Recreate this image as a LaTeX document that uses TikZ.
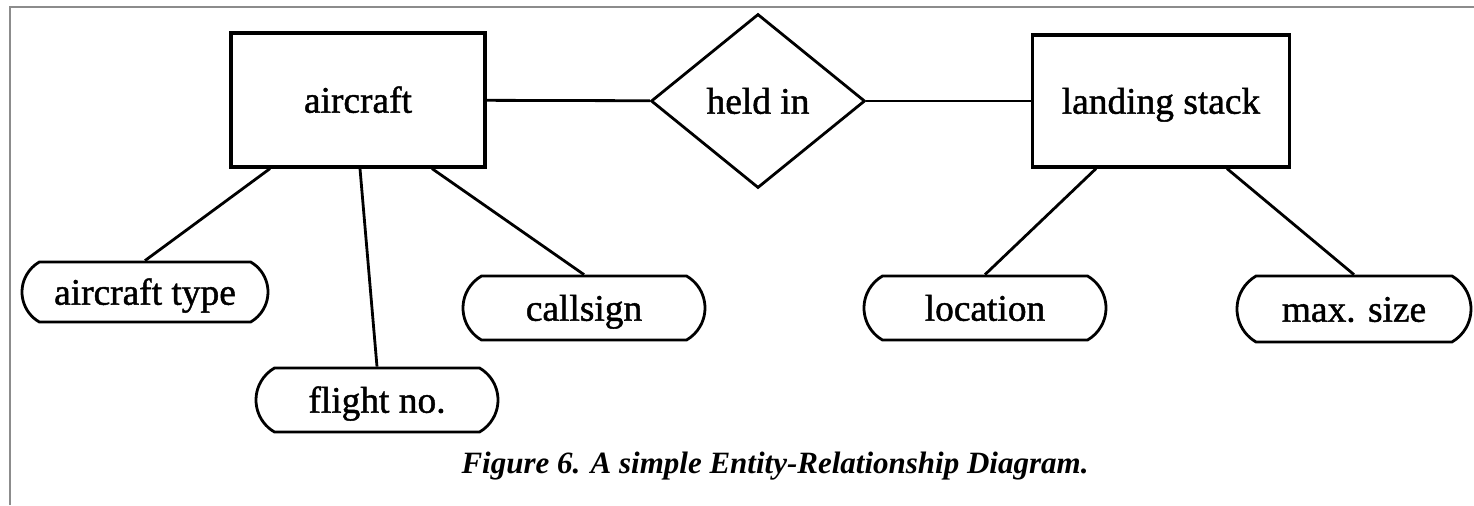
\documentclass[tikz,border=0pt]{standalone}
\usepackage{fontspec}
\setmainfont{Liberation Serif}
\newfontfamily\erfont[BoldFont={Liberation Serif},BoldFeatures={FakeBold=1.2}]{Liberation Serif}
\usetikzlibrary{shapes.geometric,shapes.misc,calc}
\begin{document}
\begin{tikzpicture}[x=0.5pt,y=-0.5pt,
  every node/.style={font=\erfont\bfseries\fontsize{18.7pt}{20pt}\selectfont, inner sep=0pt, text height=12.7pt, text depth=0pt},
  entity/.style={draw, line width=1.6pt, minimum width=127pt, minimum height=67pt},
  relation/.style={draw, diamond, line width=1.4pt, minimum width=107pt, minimum height=87pt},
  attrib/.style={draw, rounded rectangle, rounded rectangle arc length=120, line width=1.4pt, minimum width=121pt, minimum height=32pt},
  link/.style={line width=1.4pt},
  frame/.style={draw=black!45, line width=1pt}]
\useasboundingbox (0,0) rectangle (1474,505);
\draw[frame] (10,505) -- (10,7) -- (1474,7);
\node[entity] (air) at (358,100) {aircraft};
\node[relation] (held) at (758,101) {held in};
\node[entity, minimum width=128.5pt, minimum height=66pt] (land) at (1161,101) {landing stack};
\node[attrib, minimum width=123pt, minimum height=30pt] (atype) at (145,292) {aircraft type};
\node[attrib] (flight) at (377,400) {flight no.};
\node[attrib] (call) at (584,308) {callsign};
\node[attrib] (loc) at (985,308) {location};
\node[attrib, minimum width=117pt, minimum height=33pt] (maxs) at (1354,309) {max. size};
\node[font=\fontsize{15.5pt}{17pt}\selectfont\bfseries\itshape, text height=, text depth=] (cap) at (775,466) {Figure 6. A simple Entity-Relationship Diagram.};
\draw[link] (air) -- (held);
\draw[link] (held) -- (land);
\draw[link] ([xshift=-44pt]air.south) -- (atype.north);
\draw[link] ([xshift=1pt]air.south) -- (flight.north);
\draw[link] ([xshift=37pt]air.south) -- (call.north);
\draw[link] ([xshift=-32.5pt]land.south) -- (loc.north);
\draw[link] ([xshift=33pt]land.south) -- (maxs.north);
\end{tikzpicture}
\end{document}
